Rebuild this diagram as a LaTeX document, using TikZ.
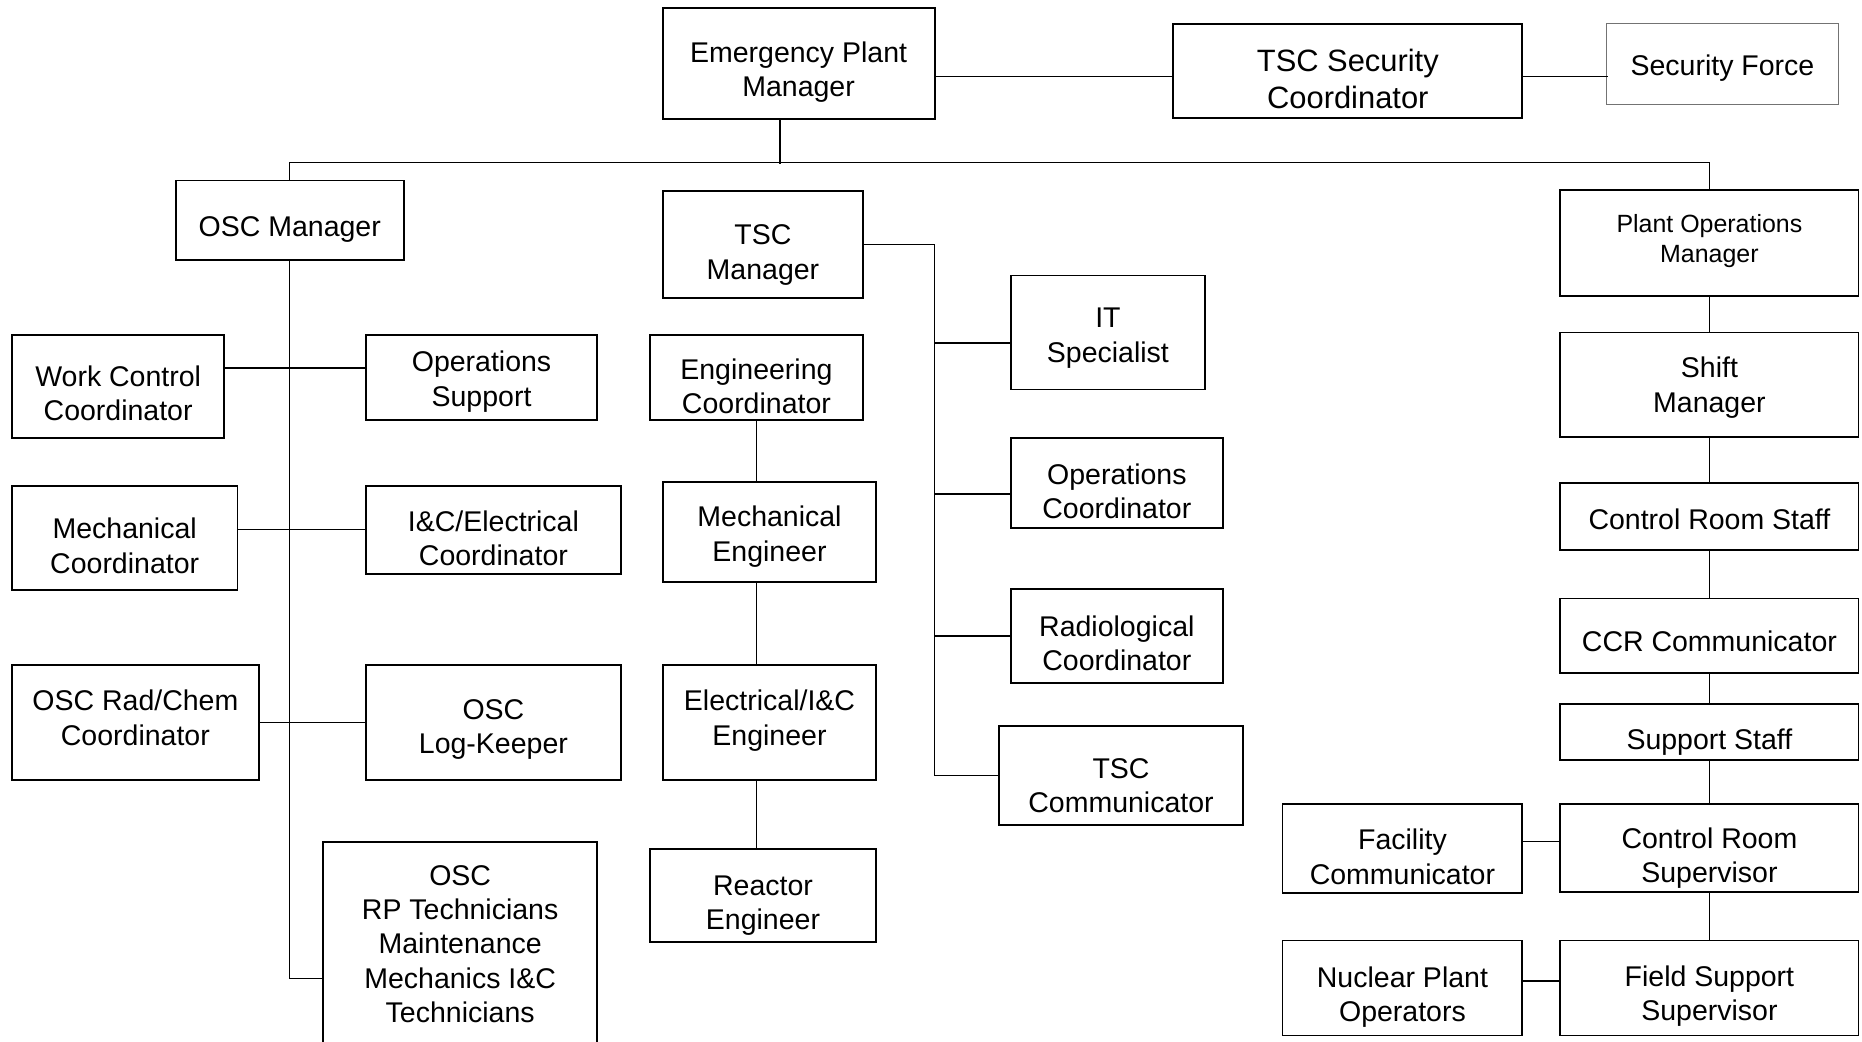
\documentclass[tikz,border=0pt]{standalone}
\usepackage{fontspec}
\setmainfont{Liberation Sans}

% box text, lowered by the node's sink amount
\def\rolesink{0pt}
\newcommand\roletext[1]{\raisebox{-\rolesink}[\height][\depth]{\begin{tabular}{@{}c@{}}#1\end{tabular}}}

\begin{document}
\begin{tikzpicture}[x=0.5pt, y=-0.5pt,
    sink/.code={\def\rolesink{#1}},
    role/.style 2 args={draw, thick, inner sep=0pt,
        minimum width=#1*0.5pt, minimum height=#2*0.5pt,
        font=\fontsize{12}{14.4}\selectfont, sink=4pt},
    faint/.style={draw=black!55, thin},
    link/.style={semithick}]

    \useasboundingbox (0,0) rectangle (1568,877);
    \clip (0,0) rectangle (1568,877);

    % top row
    \node (epm) [role={229}{93}, sink=3.9pt] at (672.5,53.5) {\roletext{Emergency Plant\\Manager}};
    \node (tscsec) [role={294}{79}, font=\fontsize{13}{15.6}\selectfont, sink=5.2pt] at (1135,59.5) {\roletext{TSC Security\\Coordinator}};
    \node (secf) [role={195}{68}, faint, sink=2pt] at (1450.5,54) {\roletext{Security Force}};

    % managers
    \node (oscm) [role={192}{67}, sink=3.8pt] at (244,185.5) {\roletext{OSC Manager}};
    \node (tscm) [role={169}{90}, sink=4.4pt] at (642.5,206) {\roletext{TSC\\Manager}};
    \node (pom) [role={251}{89}, font=\fontsize{10.5}{12.6}\selectfont, sink=-0.5pt] at (1439.5,204.5) {\roletext{Plant Operations\\Manager}};

    % OSC side
    \node (wcc) [role={179}{87}, sink=4.4pt] at (99.5,325.5) {\roletext{Work Control\\Coordinator}};
    \node (opsup) [role={195}{72}, sink=1.9pt] at (405.5,318) {\roletext{Operations\\Support}};
    \node (mechc) [role={190}{88}, sink=4.7pt] at (105,453) {\roletext{Mechanical\\Coordinator}};
    \node (icec) [role={215}{74}, sink=5.2pt] at (415.5,446) {\roletext{I\&C/Electrical\\Coordinator}};
    \node (radchem) [role={208}{97}, sink=-0.6pt] at (114,608.5) {\roletext{OSC Rad/Chem\\Coordinator}};
    \node (logk) [role={215}{97}, sink=2.9pt] at (415.5,608.5) {\roletext{OSC\\Log-Keeper}};
    \node (rptech) [role={231}{173}, sink=1pt] at (387.5,795.5) {\roletext{OSC\\RP Technicians\\Maintenance\\Mechanics I\&C\\Technicians}};
    \coordinate (rpin) at (272,824);

    % engineering
    \node (engc) [role={180}{72}, sink=5.2pt] at (637,318) {\roletext{Engineering\\Coordinator}};
    \node (meche) [role={180}{84}, sink=2.2pt] at (648,448) {\roletext{Mechanical\\Engineer}};
    \node (elece) [role={180}{97}, sink=-0.6pt] at (648,608.5) {\roletext{Electrical/I\&C\\Engineer}};
    \node (reacte) [role={191}{78}, sink=4.2pt] at (642.5,754) {\roletext{Reactor\\Engineer}};

    % TSC side
    \node (itsp) [role={164}{96}, sink=2.4pt] at (933,280) {\roletext{IT\\Specialist}};
    \node (opsc) [role={179}{76}, sink=4.7pt] at (940.5,407) {\roletext{Operations\\Coordinator}};
    \node (radc) [role={179}{79}, sink=4.4pt] at (940.5,535.5) {\roletext{Radiological\\Coordinator}};
    \node (tscc) [role={206}{84}, sink=5.7pt] at (944,653) {\roletext{TSC\\Communicator}};
    \coordinate (tx) at (787,0);

    % control room
    \node (sm) [role={251}{88}, sink=1.4pt] at (1439.5,324) {\roletext{Shift\\Manager}};
    \node (crs) [role={251}{56}, sink=2.5pt] at (1439.5,435) {\roletext{Control Room Staff}};
    \node (ccr) [role={251}{63}, sink=3.8pt] at (1439.5,535.5) {\roletext{CCR Communicator}};
    \node (ss) [role={251}{47}, sink=4.3pt] at (1439.5,616.5) {\roletext{Support Staff}};
    \node (crsup) [role={251}{74}, sink=4.7pt] at (1439.5,714) {\roletext{Control Room\\Supervisor}};
    \node (fsup) [role={251}{80}, sink=3.7pt] at (1439.5,832) {\roletext{Field Support\\Supervisor}};
    \node (facc) [role={202}{75}, sink=4.9pt] at (1181,714.5) {\roletext{Facility\\Communicator}};
    \node (npo) [role={202}{80}, sink=3.9pt] at (1181,832) {\roletext{Nuclear Plant\\Operators}};

    \coordinate (bus) at (0,137);

    \path [link]
        ([yshift=-2.5pt]tscsec.west) edge ++(-201,0)
        ([yshift=-2.5pt]tscsec.east) edge ++(71,0)
        ([xshift=-7.75pt]epm.south) edge ++(0,37)
        ([yshift=4pt]opsup.west) edge ++(-119,0)
        (mechc.east |- icec.west) edge (icec.west)
        (radchem.east) edge (logk.west)
        (engc.south) edge (engc.south |- meche.north)
        (engc.south |- meche.south) edge (engc.south |- elece.north)
        (engc.south |- elece.south) edge (engc.south |- reacte.north)
        ([yshift=3pt]facc.east) edge ++(32,0)
        ([yshift=3pt]npo.east) edge ++(32,0);

    \draw [link] (oscm.north) -- (oscm.north |- bus) -- (pom.north |- bus) -- (pom.north);
    \draw [link] (oscm.south) |- (rpin);
    \draw [link] (tscm.east) -| (tx |- tscc.west) -- (tscc.west);
    \foreach \n in {itsp, opsc}
        \draw [link] ([yshift=-4.5pt]\n.west) -- ++(-64,0);
    \draw [link] (tx |- radc.west) -- (radc.west);
    \foreach \a/\b in {pom/sm, sm/crs, crs/ccr, ccr/ss, ss/crsup, crsup/fsup}
        \draw [link] (\a.south) -- (\b.north);
\end{tikzpicture}
\end{document}
